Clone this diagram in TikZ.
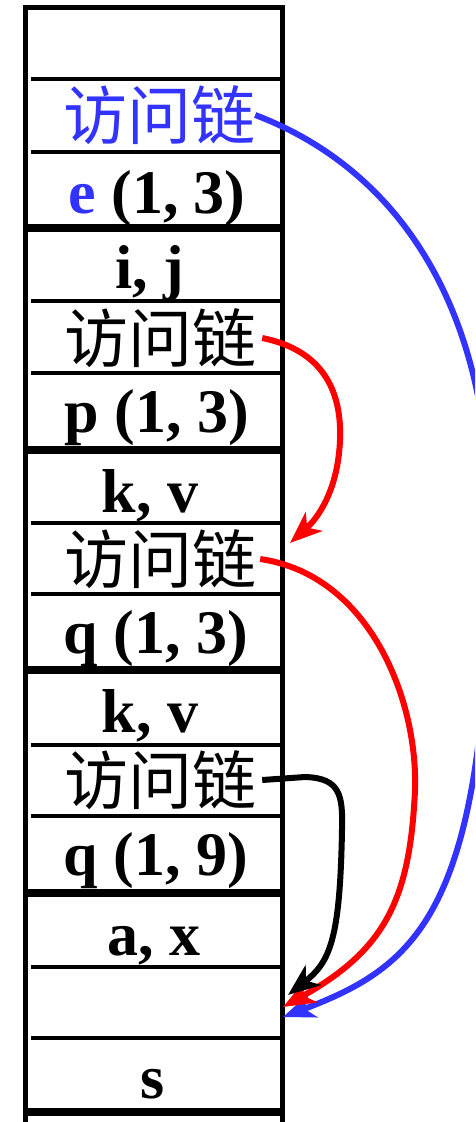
\documentclass[tikz,border=0pt]{standalone}
\usepackage{fontspec}
\setmainfont{Liberation Serif}
\newfontfamily\cjk{Noto Sans CJK SC}
\usetikzlibrary{arrows.meta}
\definecolor{linkblue}{RGB}{51,51,255}
\definecolor{linkred}{RGB}{255,0,0}
\begin{document}
\begin{tikzpicture}[x=1pt,y=-1pt,
  frame/.style={draw=black,line width=5pt},
  sep/.style={draw=black,line width=4pt},
  lat/.style={inner sep=0pt,anchor=base,font=\fontsize{62}{62}\selectfont\bfseries},
  chn/.style={inner sep=0pt,font=\fontsize{64}{64}\selectfont\cjk},
  link/.style={line width=6pt,-{Stealth[length=32pt,width=25pt,inset=9pt]}}]
\useasboundingbox (0,0) rectangle (475,1122);
\clip (0,0) rectangle (475,1122);
\fill[white] (0,0) rectangle (475,1122);
% frames
\draw[frame] (25.5,7.5) rectangle (282.5,226.75);
\draw[frame] (25.5,229.25) rectangle (282.5,448.75);
\draw[frame] (25.5,451.25) rectangle (282.5,668.75);
\draw[frame] (25.5,671.25) rectangle (282.5,891.75);
\draw[frame] (25.5,894.25) rectangle (282.5,1110.75);
\draw[frame] (25.5,1113.25) rectangle (282.5,1140);
% separators
\foreach \y in {79,152,301,373,523,594,745,816,967,1038}
  \draw[sep] (31,\y) -- (280,\y);
% texts
\node[chn,text=linkblue] (c1) at (159,115) {访问链};
\node[lat] (e1) at (157,213) {\textcolor{linkblue}{e} (1, 3)};
\node[lat] (v2) at (150,288) {i, j};
\node[chn] (c2) at (160,338) {访问链};
\node[lat] (e2) at (157,432) {p (1, 3)};
\node[lat] (v3) at (150,512) {k, v};
\node[chn] (c3) at (160,559) {访问链};
\node[lat] (e3) at (156,653) {q (1, 3)};
\node[lat] (v4) at (150,732) {k, v};
\node[chn] (c4) at (160,780) {访问链};
\node[lat] (e4) at (156,875) {q (1, 9)};
\node[lat] (v5) at (154,955) {a, x};
\node[lat] (s5) at (153,1098) {s};
% targets
\coordinate (tr1) at (290,543);
\coordinate (tk) at (288,995);
\coordinate (tr2) at (283,1007);
\coordinate (tb) at (283,1017);
% links
\draw[link,linkblue] ([xshift=0pt]c1.east) .. controls (400,170) and (492,310) .. (490,530)
  .. controls (488,910) and (420,965) .. (tb);
\draw[link,linkred] ([xshift=6pt]c2.east) .. controls (322,350) and (342,390) .. (340,440)
  .. controls (338,490) and (318,518) .. (tr1);
\draw[link,linkred] ([xshift=4pt]c3.east) .. controls (370,575) and (418,700) .. (415,790)
  .. controls (410,900) and (385,950) .. (tr2);
\draw[link,black] ([xshift=6pt]c4.east) -- (305,777) .. controls (340,778) and (343,795) .. (342,830)
  .. controls (340,940) and (330,962) .. (tk);
\end{tikzpicture}
\end{document}
